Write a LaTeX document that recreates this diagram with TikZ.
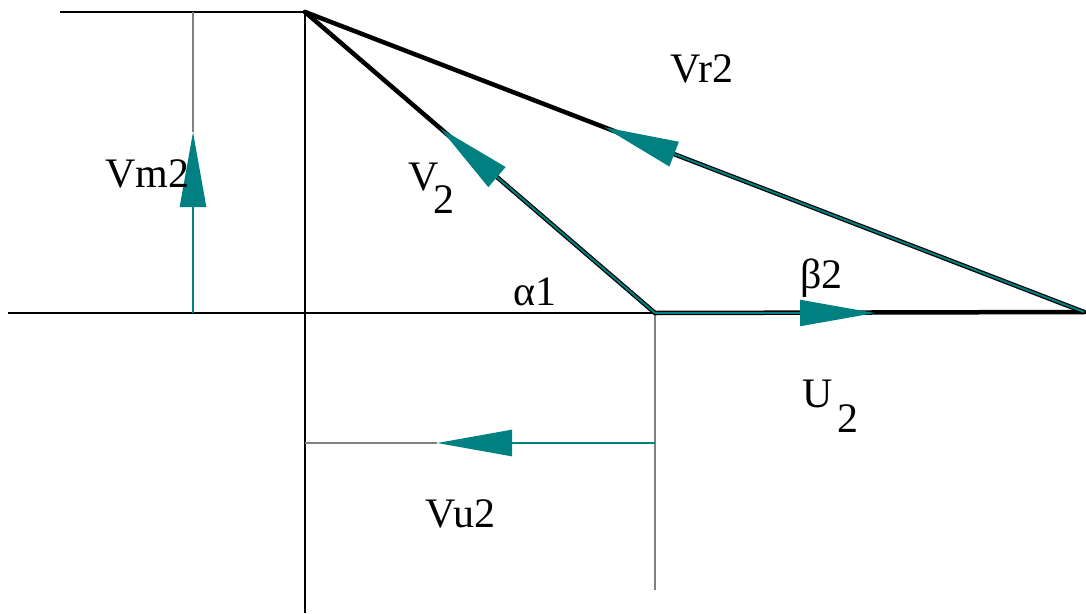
\documentclass[tikz,border=0pt]{standalone}
\usepackage{fontspec}
\setmainfont{Liberation Serif}
\usetikzlibrary{arrows.meta,calc}
\definecolor{tealc}{RGB}{0,128,128}
\begin{document}
\begin{tikzpicture}[x=1pt,y=-1pt,
  axis/.style={black,line width=1.4pt},
  guide/.style={gray,line width=1.8pt},
  side/.style={black,line width=4.5pt,line cap=round},
  vecin/.style={tealc,line width=2pt,-{Triangle[length=75pt,width=26pt]}},
  vecthin/.style={tealc,line width=2.5pt,-{Triangle[length=75pt,width=26pt]}},
  lbl/.style={inner sep=0pt,font=\fontsize{42}{46}\selectfont}]
\useasboundingbox (0,0) rectangle (1086,613);
% key points
\coordinate (A) at (305,12);
\coordinate (B) at (655,313);
\coordinate (C) at (1084,312);
\coordinate (TL) at (60,12);
\coordinate (AxL) at (8,313);
\coordinate (AxR) at (1086,313);
\coordinate (AxB) at (305,613);
\coordinate (M0) at (193,313);
\coordinate (M1) at (193,12);
\coordinate (Mtip) at (193,132);
\coordinate (Bbot) at (655,590);
\coordinate (U0) at (305,443);
\coordinate (U1) at (655,443);
\coordinate (Utip) at (437,443);
\coordinate (Vtip) at ($(A)!0.386!(B)$);
\coordinate (Rtip) at ($(A)!0.384!(C)$);
\coordinate (Btip) at (875,313);
% axes and guides
\draw[axis] (AxL) -- (AxR);
\draw[axis] (TL) -- (A);
\draw[axis] (A) -- (AxB);
\draw[guide] (M1) -- (Mtip);
\draw[guide] (B) -- (Bbot);
\draw[guide] (U0) -- (Utip);
% triangle sides
\draw[side] (A) -- (B);
\draw[side] (A) -- (C);
\draw[side] (B) -- (C);
% vectors
\draw[vecin] (B) -- (Vtip);
\draw[vecin] (C) -- (Rtip);
\draw[vecin] (B) -- (Btip);
\draw[vecthin] (M0) -- (Mtip);
\draw[vecthin] (U1) -- (Utip);
% labels
\node[lbl,anchor=base west] (lvm) at (105,187) {Vm2};
\node[lbl,anchor=base west] (lvr) at (670,82) {Vr2};
\node[lbl,anchor=base west] (lvu) at (425,527) {Vu2};
\node[lbl,anchor=base west] (lv) at (408,190) {V\hspace{-5.3pt}\raisebox{-23pt}{2}};
\node[lbl,anchor=base west] (lu) at (802,407) {U\hspace{4.7pt}\raisebox{-25pt}{2}};
\node[lbl,anchor=base west] (la) at (513,305) {α1};
\node[lbl,anchor=base west] (lb) at (800,288) {β2};
\end{tikzpicture}
\end{document}
